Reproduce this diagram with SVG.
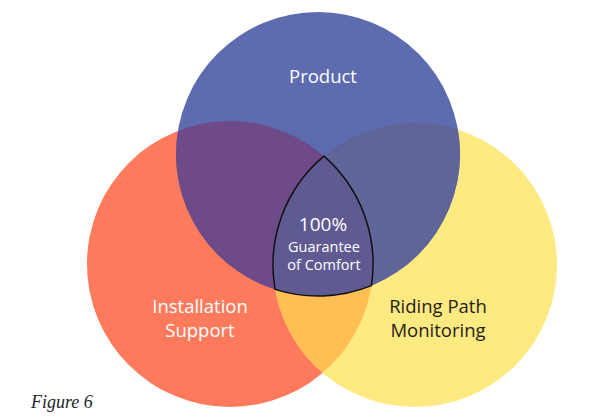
<svg xmlns="http://www.w3.org/2000/svg" width="608" height="419" viewBox="0 0 608 419">
<style>
.lbl{font-family:"Open Sans","Noto Sans",sans-serif;text-anchor:middle}
.w{fill:#ffffff}
.d{fill:#231f20}
.cap{font-family:"Liberation Serif",serif;font-style:italic;font-size:18px;fill:#1e1e2a}
</style>
<defs>
<clipPath id="cR"><circle cx="230" cy="264" r="143"/></clipPath>
<clipPath id="cY"><circle cx="415" cy="265" r="142"/></clipPath>
</defs>
<rect width="608" height="419" fill="#ffffff"/>
<g id="installation">
<circle cx="230" cy="264" r="143" fill="#fe7a5c"/>
</g>
<g id="riding-path">
<circle cx="415" cy="265" r="142" fill="#ffe981"/>
<circle cx="415" cy="265" r="142" fill="#ffbf53" clip-path="url(#cR)"/>
</g>
<g id="product">
<circle cx="318" cy="154" r="142" fill="#5d6baf"/>
<circle cx="318" cy="154" r="142" fill="#6f4a88" clip-path="url(#cR)"/>
<circle cx="318" cy="154" r="142" fill="#5f6499" clip-path="url(#cY)"/>
</g>
<g id="connectors"></g>
<g id="guarantee">
<path d="M323.9,156.1 A142,142 0 0 0 275.1,289.4 A142,142 0 0 0 371.4,285.6 A143,143 0 0 0 323.9,156.1 Z" fill="#605a92" stroke="#111111" stroke-width="1.5"/>
</g>
<text class="lbl w" x="323" y="83" font-size="18.5">Product</text>
<text class="lbl w" x="323" y="231" font-size="19">100%</text>
<text class="lbl w" x="324" y="251.5" font-size="14.5">Guarantee</text>
<text class="lbl w" x="324" y="269.5" font-size="14.5">of Comfort</text>
<text class="lbl w" x="200" y="313" font-size="18.5">Installation</text>
<text class="lbl w" x="200" y="337" font-size="18.5">Support</text>
<text class="lbl d" x="438" y="313" font-size="18.5">Riding Path</text>
<text class="lbl d" x="438" y="337" font-size="18.5">Monitoring</text>
<text class="cap" x="31" y="408">Figure 6</text>
</svg>
